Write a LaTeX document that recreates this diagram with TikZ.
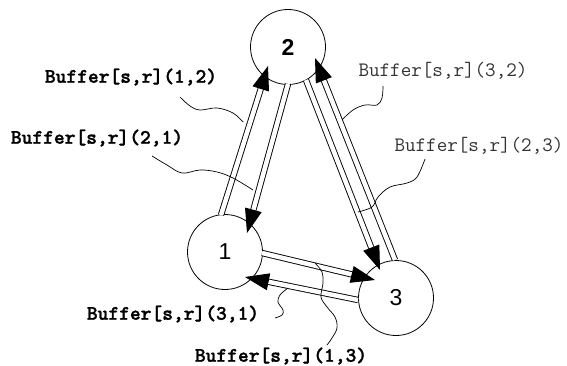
\documentclass[tikz,border=0pt]{standalone}
\usepackage{fontspec}
\usetikzlibrary{arrows.meta}
\newfontfamily\numfont{Liberation Sans}
\newfontfamily\bmono[FakeBold=1.5]{lmmonolt10-bold.otf}
\begin{document}
\begin{tikzpicture}[x=1pt,y=-1pt,
  proc/.style={draw, circle, line width=0.8pt, minimum size=75pt, inner sep=0pt, fill=white},
  chan/.style={double, double distance=4.5pt, line width=0.9pt, -{Triangle[length=24pt,width=17pt]}},
  lead/.style={line width=0.7pt},
  blbl/.style={font=\bmono\fontsize{20.5}{22}\selectfont, inner sep=0pt},
  tlbl/.style={font=\ttfamily\fontsize{20.5}{22}\selectfont, text=black!80, inner sep=0pt}]
\useasboundingbox (0,0) rectangle (567,366);
% processes
\node[proc, font=\numfont\bfseries\fontsize{23}{25}\selectfont] (n2) at (288,47) {2};
\node[proc, font=\numfont\fontsize{23}{25}\selectfont] (n1) at (225,252) {1};
\node[proc, font=\numfont\fontsize{23}{25}\selectfont] (n3) at (396,298) {3};
% channel end points
\coordinate (a12s) at (221,215); \coordinate (a12e) at (268,66);
\coordinate (a21s) at (288,84);  \coordinate (a21e) at (247,233);
\coordinate (a23s) at (306,80);  \coordinate (a23e) at (380,270);
\coordinate (a32s) at (395,260); \coordinate (a32e) at (315,58);
\coordinate (a13s) at (262,253); \coordinate (a13e) at (375,280);
\coordinate (a31s) at (358,300); \coordinate (a31e) at (245,277);
\draw[chan] (a12s) -- (a12e);
\draw[chan] (a21s) -- (a21e);
\draw[chan] (a23s) -- (a23e);
\draw[chan] (a32s) -- (a32e);
\draw[chan] (a13s) -- (a13e);
\draw[chan] (a31s) -- (a31e);
% labels
\node[blbl] (b12) at (131,77) {Buffer[s,r](1,2)};
\node[blbl] (b21) at (97,138) {Buffer[s,r](2,1)};
\node[tlbl] (b32) at (443,71) {Buffer[s,r](3,2)};
\node[tlbl] (b23) at (479,146) {Buffer[s,r](2,3)};
\node[blbl] (b31) at (173,314) {Buffer[s,r](3,1)};
\node[blbl] (b13) at (281,356) {Buffer[s,r](1,3)};
% leaders
\draw[lead] plot[smooth, tension=0.6] coordinates {(180,97) (190,106) (200,110) (217,108) (233,113) (243,122)};
\draw[lead] plot[smooth, tension=0.6] coordinates {(152,156) (167,165) (182,173) (200,170) (217,172) (233,178) (253,190)};
\draw[lead] plot[smooth, tension=0.6] coordinates {(383,86) (382,98) (377,105) (365,105) (353,110) (342,120)};
\draw[lead] plot[smooth, tension=0.6] coordinates {(425,159) (417,177) (407,183) (390,187) (378,197) (372,207) (358,212)};
\draw[lead] plot[smooth, tension=0.6] coordinates {(275,318) (282,315) (283,310) (278,302) (280,295) (288,288)};
\draw[lead] plot[smooth, tension=0.6] coordinates {(315,263) (322,272) (323,283) (321,297) (327,307) (335,317) (337,328) (332,338) (327,345)};
\end{tikzpicture}
\end{document}
